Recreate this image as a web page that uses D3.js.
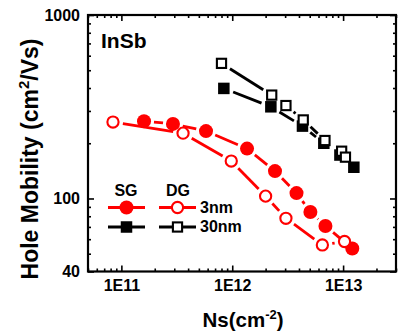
<!DOCTYPE html>
<html>
<head>
<meta charset="utf-8">
<script src="https://cdn.jsdelivr.net/npm/d3@7/dist/d3.min.js"></script>
<style>
  html, body { margin: 0; padding: 0; background: #fff; }
  svg { display: block; }
  text { font-family: Arial, "Liberation Sans", sans-serif; font-weight: bold; fill: #000; }
</style>
</head>
<body>
<svg id="chart" width="402" height="332"></svg>
<script>
// Hole mobility vs. sheet density, InSb, single gate (SG) vs double gate (DG)
const sg3nmNs   = [1.6e11, 2.92e11, 5.8e11, 1.36e12, 2.43e12, 3.8e12, 5.07e12, 6.93e12, 1.21e13];
const sg3nmMu   = [264, 255, 233, 187, 141, 107, 84.4, 70.8, 53.4];
const dg3nmNs   = [8.4e10, 3.6e11, 9.8e11, 2.0e12, 3.05e12, 6.5e12, 1.03e13];
const dg3nmMu   = [261, 227, 160, 103, 78, 55.8, 58.3];
const sg30nmNs  = [8.4e11, 2.23e12, 4.3e12, 6.7e12, 9.36e12, 1.25e13];
const sg30nmMu  = [398, 316, 248, 200, 172.5, 148];
const dg30nmNs  = [8.0e11, 2.27e12, 3.05e12, 4.37e12, 6.86e12, 9.7e12, 1.05e13];
const dg30nmMu  = [545, 366, 321, 268, 207, 181, 168];

const xMajor = [1e11, 1e12, 1e13];
const xMajorLabels = ["1E11", "1E12", "1E13"];
const yMajor = [40, 100, 1000];
const yMajorLabels = ["40", "100", "1000"];

const FONT = "Arial, 'Liberation Sans', sans-serif";
const svg = d3.select("#chart");
const plot = { left: 88, right: 396, top: 15, bottom: 271.5 };

const x = d3.scaleLog().domain([5e10, 3e13]).range([plot.left, plot.right]);
const y = d3.scaleLog().domain([40, 1000]).range([plot.bottom, plot.top]);

// minor ticks: 2..9 in every decade inside the domain
function minorTicks(scale, majors) {
  const [a, b] = scale.domain();
  const out = [];
  for (let e = Math.floor(Math.log10(a)); e <= Math.ceil(Math.log10(b)); e++) {
    for (let k = 2; k <= 9; k++) {
      const v = k * Math.pow(10, e);
      if (v >= a * 0.999 && v <= b * 1.001 && !majors.includes(v)) out.push(v);
    }
  }
  return out;
}
const xMinor = minorTicks(x, xMajor);
const yMinor = minorTicks(y, yMajor);

function styleAxis(g) {
  g.select(".domain").remove();
  g.selectAll(".tick line").attr("stroke", "#000").attr("stroke-width", 1.6);
  g.selectAll("text").attr("font-size", 16).attr("font-family", FONT).attr("font-weight", "bold").attr("fill", "#000");
}

// bottom axis with labels
const fmtX = v => xMajorLabels[xMajor.indexOf(v)];
svg.append("g").attr("transform", `translate(0,${plot.bottom})`)
  .call(d3.axisBottom(x).tickValues(xMajor).tickFormat(fmtX).tickSizeInner(-6).tickPadding(8))
  .call(styleAxis);
svg.append("g").attr("transform", `translate(0,${plot.bottom})`)
  .call(d3.axisBottom(x).tickValues(xMinor).tickFormat("").tickSizeInner(-3))
  .call(styleAxis);
// top axis, ticks only
svg.append("g").attr("transform", `translate(0,${plot.top})`)
  .call(d3.axisTop(x).tickValues(xMajor).tickFormat("").tickSizeInner(-6))
  .call(styleAxis);
svg.append("g").attr("transform", `translate(0,${plot.top})`)
  .call(d3.axisTop(x).tickValues(xMinor).tickFormat("").tickSizeInner(-3))
  .call(styleAxis);

// left axis with labels
const fmtY = v => yMajorLabels[yMajor.indexOf(v)];
svg.append("g").attr("transform", `translate(${plot.left},0)`)
  .call(d3.axisLeft(y).tickValues(yMajor).tickFormat(fmtY).tickSizeInner(-6).tickPadding(8))
  .call(styleAxis);
svg.append("g").attr("transform", `translate(${plot.left},0)`)
  .call(d3.axisLeft(y).tickValues(yMinor).tickFormat("").tickSizeInner(-3))
  .call(styleAxis);
// right axis, ticks only
svg.append("g").attr("transform", `translate(${plot.right},0)`)
  .call(d3.axisRight(y).tickValues(yMajor).tickFormat("").tickSizeInner(-6))
  .call(styleAxis);
svg.append("g").attr("transform", `translate(${plot.right},0)`)
  .call(d3.axisRight(y).tickValues(yMinor).tickFormat("").tickSizeInner(-3))
  .call(styleAxis);

// frame
svg.append("rect")
  .attr("x", plot.left).attr("y", plot.top)
  .attr("width", plot.right - plot.left).attr("height", plot.bottom - plot.top)
  .attr("fill", "none").attr("stroke", "#000").attr("stroke-width", 2.2);

// connecting lines stop short of each symbol
function gappedSegments(g, pts, color, gap) {
  for (let i = 0; i < pts.length - 1; i++) {
    const [x0, y0] = pts[i], [x1, y1] = pts[i + 1];
    const dx = x1 - x0, dy = y1 - y0, L = Math.hypot(dx, dy);
    if (L <= 2 * gap) continue;
    const ux = dx / L, uy = dy / L;
    g.append("line")
      .attr("x1", x0 + ux * gap).attr("y1", y0 + uy * gap)
      .attr("x2", x1 - ux * gap).attr("y2", y1 - uy * gap)
      .attr("stroke", color).attr("stroke-width", 2.8);
  }
}

function marker(g, shape, filled, color, px, py) {
  if (shape === "circle") {
    g.append("circle").attr("cx", px).attr("cy", py)
      .attr("r", filled ? 7 : 5.6)
      .attr("fill", filled ? color : "#fff")
      .attr("stroke", color).attr("stroke-width", filled ? 0 : 2.1);
  } else {
    const s = filled ? 11.5 : 9.2;
    g.append("rect").attr("x", px - s / 2).attr("y", py - s / 2)
      .attr("width", s).attr("height", s)
      .attr("fill", filled ? color : "#fff")
      .attr("stroke", color).attr("stroke-width", filled ? 0 : 2.1);
  }
}

function drawSeries(ns, mu, opts) {
  const g = svg.append("g");
  const pts = ns.map((v, i) => [x(v), y(mu[i])]);
  gappedSegments(g, pts, opts.color, opts.gap);
  pts.forEach(([px, py]) => marker(g, opts.shape, opts.filled, opts.color, px, py));
}

drawSeries(sg30nmNs, sg30nmMu, { color: "#000", shape: "square", filled: true, gap: 10 });
drawSeries(dg30nmNs, dg30nmMu, { color: "#000", shape: "square", filled: false, gap: 10 });
drawSeries(sg3nmNs, sg3nmMu, { color: "#ff0000", shape: "circle", filled: true, gap: 10 });
drawSeries(dg3nmNs, dg3nmMu, { color: "#ff0000", shape: "circle", filled: false, gap: 10 });

// legend
const lg = svg.append("g");
lg.append("text").attr("x", 126).attr("y", 196).attr("text-anchor", "middle").attr("font-size", 16).text("SG");
lg.append("text").attr("x", 178).attr("y", 196).attr("text-anchor", "middle").attr("font-size", 16).text("DG");
const legendRows = [
  { color: "#ff0000", shape: "circle", label: "3nm", yy: 207.5 },
  { color: "#000", shape: "square", label: "30nm", yy: 227 }
];
legendRows.forEach(r => {
  [[108, 145, true], [159, 196, false]].forEach(([a, b, filled]) => {
    lg.append("line").attr("x1", a).attr("x2", b).attr("y1", r.yy).attr("y2", r.yy)
      .attr("stroke", r.color).attr("stroke-width", 2.8);
    marker(lg, r.shape, filled, r.color, (a + b) / 2, r.yy);
  });
  lg.append("text").attr("x", 200).attr("y", r.yy + 5).attr("font-size", 16).text(r.label);
});

// material label
svg.append("text").attr("x", 101).attr("y", 47.5).attr("font-size", 21).text("InSb");

// axis titles
const yt = svg.append("text").attr("transform", "translate(38,159) rotate(-90)")
  .attr("text-anchor", "middle").attr("font-size", 23);
yt.append("tspan").text("Hole Mobility (cm");
yt.append("tspan").attr("font-size", 15).attr("dy", -9).text("2");
yt.append("tspan").attr("dy", 9).text("/Vs)");

const xt = svg.append("text").attr("x", 243).attr("y", 327)
  .attr("text-anchor", "middle").attr("font-size", 20.5);
xt.append("tspan").text("Ns(cm");
xt.append("tspan").attr("font-size", 13).attr("dy", -8).text("-2");
xt.append("tspan").attr("dy", 8).text(")");
</script>
</body>
</html>
